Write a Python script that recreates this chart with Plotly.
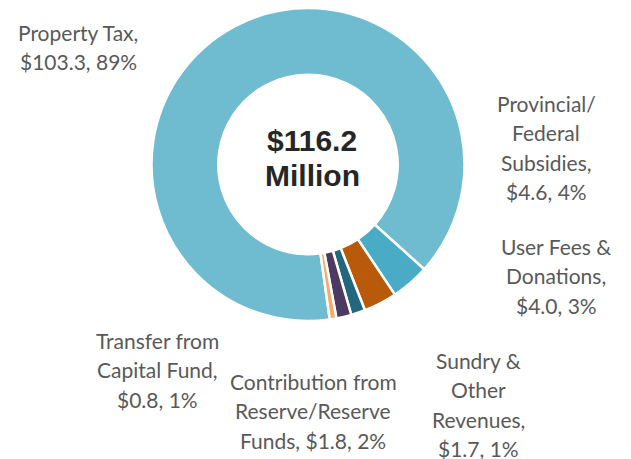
import plotly.graph_objects as go

# revenue sources, $ millions
sources = ["Property Tax", "Provincial/ Federal Subsidies", "User Fees & Donations",
           "Sundry & Other Revenues", "Contribution from Reserve/Reserve Funds",
           "Transfer from Capital Fund"]
amounts = [103.3, 4.6, 4.0, 1.7, 1.8, 0.8]
colors = ["#6fbcd0", "#4aabc6", "#b85a0a", "#21687e", "#4d3a62", "#f7aa6c"]

# label text, one list of lines per slice
label_lines = [
    ["Property Tax,", "$103.3, 89%"],
    ["Provincial/", "Federal", "Subsidies,", "$4.6, 4%"],
    ["User Fees &", "Donations,", "$4.0, 3%"],
    ["Sundry &", "Other", "Revenues,", "$1.7, 1%"],
    ["Contribution from", "Reserve/Reserve", "Funds, $1.8, 2%"],
    ["Transfer from", "Capital Fund,", "$0.8, 1%"],
]
# where each label block sits (px from top-left, centre of first line)
label_pos = [(78, 32), (546, 103), (556, 246), (478, 360), (313, 381), (157, 340)]

W, H = 631, 459
OFF = 8          # the page body adds an 8px margin, pull everything back
LINE = 29.5
TEXT = "#595959"


def px(x, y):
    return (x - OFF) / W, 1 - (y - OFF) / H


fig = go.Figure()

x0, y1 = px(151, 8)
x1, y0 = px(465, 321)
fig.add_trace(go.Pie(
    labels=sources,
    values=amounts,
    hole=0.573,
    sort=False,
    direction="clockwise",
    rotation=172,
    marker=dict(colors=colors, line=dict(color="white", width=2.5)),
    textinfo="none",
    hoverinfo="label+value+percent",
    domain=dict(x=[x0, x1], y=[y0, min(y1, 1)]),
    showlegend=False,
))

for lines, (cx, cy) in zip(label_lines, label_pos):
    for i, ln in enumerate(lines):
        ax, ay = px(cx, cy + i * LINE)
        fig.add_annotation(
            x=ax, y=ay, xref="paper", yref="paper",
            text=ln, showarrow=False,
            xanchor="center", yanchor="middle",
            font=dict(family="Lato, sans-serif", size=21, color=TEXT),
        )

for i, ln in enumerate(["$116.2", "Million"]):
    ax, ay = px(312, 140 + i * 35)
    fig.add_annotation(
        x=ax, y=ay, xref="paper", yref="paper",
        text="<b>%s</b>" % ln, showarrow=False,
        xanchor="center", yanchor="middle",
        font=dict(family="Liberation Sans, Arial, sans-serif", size=30, color="#262626"),
    )

fig.update_layout(
    width=W, height=H,
    margin=dict(l=0, r=0, t=0, b=0),
    paper_bgcolor="white",
    plot_bgcolor="white",
)

fig.write_html("out.html")
